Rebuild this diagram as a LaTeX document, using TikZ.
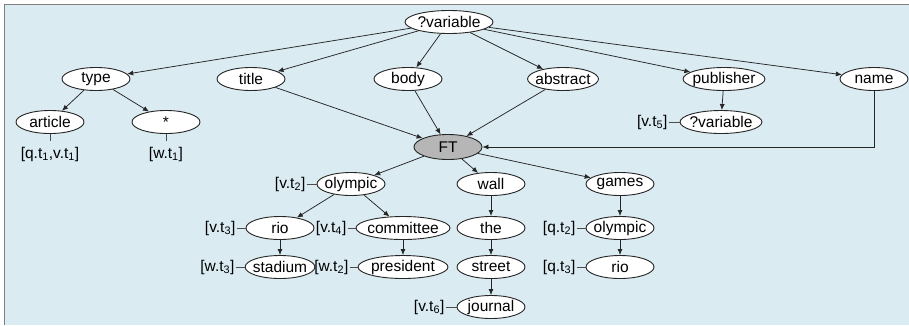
\documentclass[tikz,border=0pt]{standalone}
\usepackage{fontspec}
\setmainfont{Liberation Sans}
\usetikzlibrary{arrows.meta,shapes.geometric,positioning}

\begin{document}
\begin{tikzpicture}[
    x=1pt,y=-1pt,
    font=\fontsize{15.5}{18}\selectfont,
    word/.style={ellipse,draw=black!85,line width=0.9pt,fill=white,minimum width=68pt,
      minimum height=23pt,inner xsep=-2.5pt,inner ysep=0pt},
    wide/.style={minimum width=90pt},
    tag/.style={inner sep=1pt},
    edge/.style={draw=black!85,line width=0.75pt,-{Latex[length=6pt,width=5pt]}},
    tie/.style={draw=black!70,line width=0.75pt}
  ]
  \definecolor{panel}{RGB}{218,235,242}
  \definecolor{frame}{RGB}{128,128,128}
  \definecolor{hub}{RGB}{182,182,182}
  \useasboundingbox (0,0) rectangle (909,325);
  \fill[panel] (4,4) rectangle (909,325);
  \draw[frame,line width=1.6pt] (4.5,325) -- (4.5,4.5) -- (909,4.5);
  % query tree
  \node[word,minimum width=88pt] (var) at (449,22) {?variable};
  \node[word] (type) at (96,79) {type};
  \node[word] (title) at (251,79) {title};
  \node[word] (body) at (408,79) {body};
  \node[word] (abstract) at (563,79) {abstract};
  \node[word] (publisher) at (724,79) {publisher};
  \node[word] (name) at (874,79) {name};
  \node[word] (article) at (50,122) {article};
  \node[word] (star) at (166,122) {*};
  \node[word] (pubvar) at (721,122) {?variable};
  \node[word,fill=hub,minimum height=25pt] (FT) at (448,147) {FT};
  % full text part
  \node[word] (olympic) at (351,184) {olympic};
  \node[word] (wall) at (491,184) {wall};
  \node[word] (games) at (620,184) {games};
  \node[word] (rio) at (280,228) {rio};
  \node[word,wide] (committee) at (403,228) {committee};
  \node[word] (the) at (491,228) {the};
  \node[word] (gameolympic) at (620,228) {olympic};
  \node[word] (stadium) at (280,267) {stadium};
  \node[word,wide] (president) at (403,267) {president};
  \node[word] (street) at (491,267) {street};
  \node[word] (gamerio) at (620,267) {rio};
  \node[word] (journal) at (491,307) {journal};
  % tags
  \node[tag,below=12pt of article] (qv1) {[q.t\textsubscript{1},v.t\textsubscript{1}]};
  \node[tag,below=12pt of star] (w1) {[w.t\textsubscript{1}]};
  \node[tag,left=11pt of pubvar] (v5) {[v.t\textsubscript{5}]};
  \node[tag,left=10pt of olympic] (v2) {[v.t\textsubscript{2}]};
  \node[tag,left=9pt of rio] (v3) {[v.t\textsubscript{3}]};
  \node[tag,left=8pt of committee] (v4) {[v.t\textsubscript{4}]};
  \node[tag,left=9pt of stadium] (w3) {[w.t\textsubscript{3}]};
  \node[tag,left=8pt of president] (w2) {[w.t\textsubscript{2}]};
  \node[tag,left=11pt of journal] (v6) {[v.t\textsubscript{6}]};
  \node[tag,left=9pt of gameolympic] (q2) {[q.t\textsubscript{2}]};
  \node[tag,left=9pt of gamerio] (q3) {[q.t\textsubscript{3}]};
  \draw[tie,shorten >=5pt] (article) -- (qv1);
  \draw[tie,shorten >=5pt] (star) -- (w1);
  \foreach \t/\w in {v5/pubvar,v2/olympic,v3/rio,v4/committee,w3/stadium,
                     w2/president,v6/journal,q2/gameolympic,q3/gamerio}
    \draw[tie] (\t) -- (\w);
  % arrows
  \foreach \kid in {type,title,body,abstract,publisher,name}
    \draw[edge] (var) -- (\kid);
  \draw[edge] (type) -- (article);
  \draw[edge] (type) -- (star);
  \draw[edge] (publisher) -- (pubvar);
  \foreach \src in {title,body,abstract}
    \draw[edge] (\src) -- (FT);
  \draw[edge] (name.south) |- (FT.east);
  \foreach \kid in {olympic,wall,games}
    \draw[edge] (FT) -- (\kid);
  \foreach \a/\b in {olympic/rio,olympic/committee,rio/stadium,committee/president,
                     wall/the,the/street,street/journal,games/gameolympic,gameolympic/gamerio}
    \draw[edge] (\a) -- (\b);
\end{tikzpicture}
\end{document}
